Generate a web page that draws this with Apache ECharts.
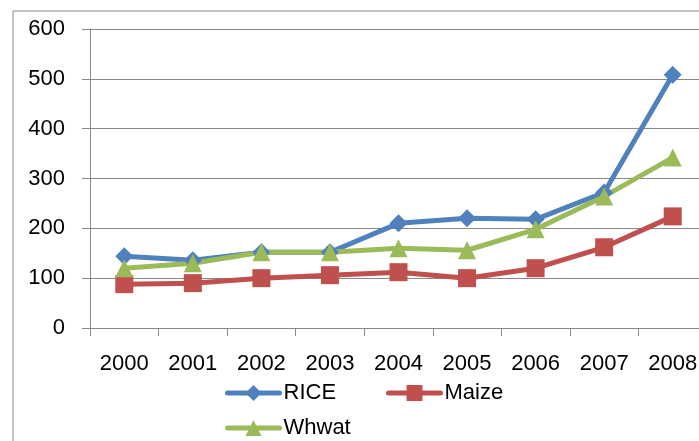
<!DOCTYPE html>
<html>
<head>
<meta charset="utf-8">
<script src="https://cdn.jsdelivr.net/npm/echarts@6/dist/echarts.min.js"></script>
<style>
  html, body { margin: 0; padding: 0; background: #fff; }
  #chart { width: 699px; height: 441px; }
</style>
</head>
<body>
<div id="chart"></div>
<script>
const years = ['2000', '2001', '2002', '2003', '2004', '2005', '2006', '2007', '2008']
const rice = [144, 136, 152, 152, 210, 220, 218, 272, 508]
const maize = [88, 90, 100, 106, 112, 100, 120, 162, 224]
const whwat = [120, 130, 152, 152, 160, 156, 198, 264, 342]
const yTicks = { min: 0, max: 600, interval: 100 }

const fontFamily = '"Liberation Sans", Arial, sans-serif'
const gridGray = '#888888'
const colors = { rice: '#4f81bd', maize: '#c0504d', whwat: '#9bbb59' }

const legendText = { color: '#000', fontFamily, fontSize: 22, padding: [0, 0, 0, -1] }
const legendBase = {
  orient: 'horizontal',
  itemWidth: 52,
  itemHeight: 20,
  itemGap: 0,
  lineStyle: { width: 5, cap: 'round' },
  textStyle: legendText,
}

const makeSeries = (name, data, color, symbol) => ({
  name,
  type: 'line',
  data,
  symbol,
  symbolSize: 18,
  color,
  lineStyle: { width: 5, color, cap: 'round' },
  itemStyle: { color },
  emphasis: { disabled: true },
})

const myChart = echarts.init(document.getElementById('chart'))

myChart.setOption({
  animation: false,
  backgroundColor: '#fff',
  graphic: [
    {
      type: 'polyline',
      shape: { points: [[13, 445], [13, 11], [705, 11]] },
      style: { stroke: gridGray, fill: null, lineWidth: 1 },
    },
  ],
  // the plot runs past the right edge of the picture, as in the source
  grid: { left: 90, top: 29, right: -8, bottom: 113, outerBoundsMode: 'none', containLabel: false },
  legend: [
    { ...legendBase, data: ['RICE'], left: 220, top: 377 },
    { ...legendBase, data: ['Maize'], left: 381, top: 377 },
    { ...legendBase, data: ['Whwat'], left: 220, top: 412 },
  ],
  xAxis: {
    type: 'category',
    data: years,
    boundaryGap: true,
    axisLine: { show: true, lineStyle: { color: gridGray, width: 1 } },
    axisTick: { show: true, length: 8, lineStyle: { color: gridGray } },
    axisLabel: { color: '#000', fontFamily, fontSize: 22, margin: 25, hideOverlap: false },
    splitLine: { show: false },
  },
  yAxis: {
    type: 'value',
    min: yTicks.min,
    max: yTicks.max,
    interval: yTicks.interval,
    axisLine: { show: true, lineStyle: { color: gridGray, width: 1 } },
    axisTick: { show: true, length: 8, lineStyle: { color: gridGray } },
    axisLabel: { color: '#000', fontFamily, fontSize: 22, margin: 25 },
    splitLine: { show: true, lineStyle: { color: gridGray, width: 1 } },
  },
  series: [
    makeSeries('RICE', rice, colors.rice, 'diamond'),
    makeSeries('Maize', maize, colors.maize, 'rect'),
    makeSeries('Whwat', whwat, colors.whwat, 'triangle'),
  ],
})
</script>
</body>
</html>
